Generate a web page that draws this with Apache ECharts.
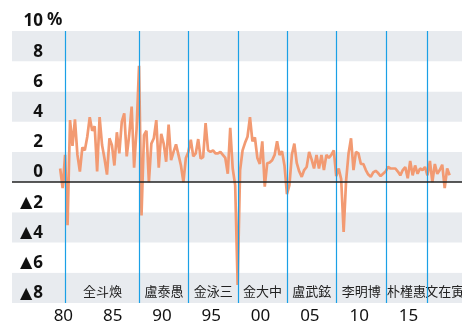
<!DOCTYPE html>
<html><head><meta charset="utf-8">
<script src="https://cdn.jsdelivr.net/npm/echarts@6/dist/echarts.min.js"></script>
<style>html,body{margin:0;padding:0;background:#fff}#c{width:462px;height:326px}</style>
</head><body><div id="c"></div>
<script>
const firstYear = 1980;
// quarterly real GDP growth (%), 1980Q1 ..
const growth = [
  0.9,-0.4,1.8,-2.85,4.1,2.4,4.15,1.8,0.7,2.3,2.1,3.0,4.3,3.4,3.7,0.7,4.3,2.45,1.55,0.5,
  2.9,2.45,1.1,3.3,1.9,4.0,4.55,1.7,3.1,5.0,0.95,3.5,7.7,-2.2,3.1,3.4,0.0,2.55,2.9,4.1,
  0.95,3.2,2.55,1.35,3.8,1.45,2.0,2.5,1.8,1.1,0.0,1.6,2.0,2.8,1.7,1.9,2.85,1.55,1.65,3.9,
  2.1,2.0,2.1,1.9,1.9,2.0,1.8,1.6,0.55,3.6,0.9,-0.2,-6.8,0.8,2.1,2.6,3.0,4.3,2.7,2.95,
  1.6,1.2,2.7,-0.3,1.25,1.3,1.45,1.8,2.7,1.8,2.05,1.1,-0.8,-0.2,1.8,2.55,1.25,0.7,0.35,0.8,
  1.0,2.0,1.5,0.9,1.8,0.9,1.8,0.8,1.8,1.6,1.8,2.1,0.4,0.9,0.2,-3.3,0.1,1.9,2.9,0.8,
  2.0,1.9,1.2,1.2,0.8,0.5,0.35,0.65,0.75,0.6,0.4,0.55,0.7,1.0,0.9,0.9,0.9,0.7,0.45,0.8,
  1.0,0.25,1.4,0.45,1.1,0.55,0.9,0.8,1.0,0.45,1.4,0.0,1.2,0.55,0.8,1.15,-0.4,0.9,0.45
];
const quarters = growth.map((_, i) => (firstYear + Math.floor(i / 4)) + 'Q' + (i % 4 + 1));
const presidents = ['全斗煥','盧泰愚','金泳三','金大中','盧武鉉','李明博','朴槿惠','文在寅'];
const termStarts = [1980.67, 1988.15, 1993.15, 1998.15, 2003.15, 2008.15, 2013.15, 2017.36];
const xTickYears = [1980,1985,1990,1995,2000,2005,2010,2015];
const xTickLabels = ['80','85','90','95','00','05','10','15'];
const yTicks = [-8,-6,-4,-2,0,2,4,6,8,10];
const yTickLabels = ['▲8','▲6','▲4','▲2','0','2','4','6','8','10'];
const yUnit = '%';

const X_MIN = 1975.24, X_MAX = 2020.88;
const LABEL_SHIFT = 0.45;
function qPos(q) { const y = +q.slice(0,4), n = +q.slice(5); return y + (n - 1) / 4 + 0.125; }

const chart = echarts.init(document.getElementById('c'), null, {renderer:'canvas'});
const blue = {color:'#1aa0e6', width:1.2, type:'solid'};
chart.setOption({
  animation:false,
  grid:{left:12, right:0, top:31, bottom:23},
  xAxis:{
    type:'value', min:X_MIN, max:X_MAX,
    axisLine:{show:false}, axisTick:{show:false}, splitLine:{show:false},
    axisLabel:{
      customValues: xTickYears.map(y => y + LABEL_SHIFT),
      formatter: v => xTickLabels[xTickYears.indexOf(Math.round(v - LABEL_SHIFT))],
      fontSize:17, color:'#111', fontFamily:'Noto Sans', margin:5
    }
  },
  yAxis:{
    type:'value', min:-8, max:10, interval:2,
    axisLine:{show:false}, axisTick:{show:false}, splitLine:{show:false},
    splitArea:{show:true, areaStyle:{color:['#e8ebef','#ffffff']}},
    axisLabel:{
      inside:true, align:'right', margin:31, verticalAlign:'bottom',
      formatter: v => {
        const s = yTickLabels[yTicks.indexOf(v)];
        return s.charAt(0) === '▲' ? '{t|▲}' + s.slice(1) : s;
      },
      rich:{t:{fontSize:16, fontFamily:'DejaVu Sans', color:'#111', padding:[0,1,0,0]}},
      fontSize:17, fontWeight:'bold', color:'#111', fontFamily:'Noto Sans', padding:[0,0,1,0]
    }
  },
  graphic:[{type:'text', left:47, top:12, style:{text:yUnit, font:'bold 17px "Noto Sans"', fill:'#111'}}],
  series:[{
    type:'line', showSymbol:false, z:2,
    lineStyle:{color:'#f29a72', width:2.7},
    data: growth.map((v, i) => [qPos(quarters[i]), v])
  },{
    type:'line', data:[], z:3,
    markLine:{silent:true, symbol:'none', label:{show:false},
      data: termStarts.map(t => ({xAxis:t, lineStyle:blue}))
        .concat([{yAxis:0, lineStyle:{color:'#222', width:1.5, type:'solid'}}])},
    markArea:{silent:true, itemStyle:{color:'rgba(0,0,0,0)'},
      label:{show:true, position:'insideBottom', distance:5, fontSize:13, color:'#222', fontFamily:'Noto Sans CJK JP'},
      data: presidents.map((n, k) => [{name:n, xAxis:termStarts[k]}, {xAxis: k + 1 < termStarts.length ? termStarts[k+1] : X_MAX}])}
  }]
});
</script></body></html>
